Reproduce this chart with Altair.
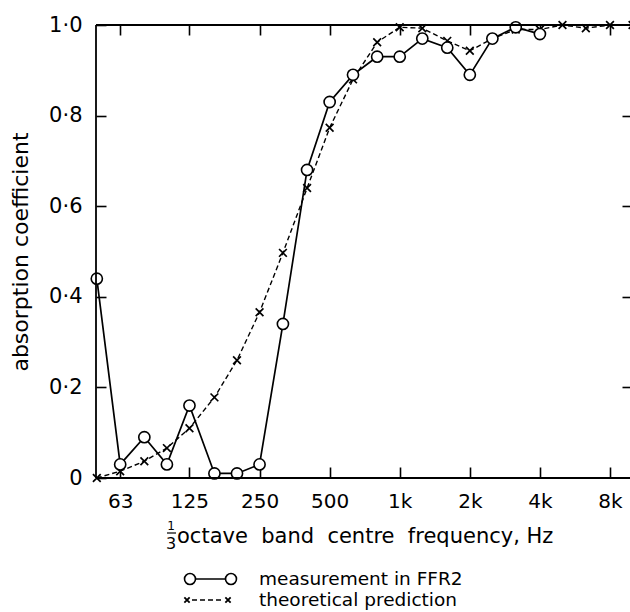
import altair as alt
import pandas as pd

# 1/3-octave band centre frequencies (Hz) and absorption coefficients
meas_freq = [50, 63, 80, 100, 125, 160, 200, 250, 315, 400, 500, 630, 800,
             1000, 1250, 1600, 2000, 2500, 3150, 4000]
meas_alpha = [0.44, 0.03, 0.09, 0.03, 0.16, 0.01, 0.01, 0.03, 0.34, 0.68,
              0.83, 0.89, 0.93, 0.93, 0.97, 0.95, 0.89, 0.97, 0.995, 0.98]

theo_freq = [50, 63, 80, 100, 125, 160, 200, 250, 315, 400, 500, 630, 800,
             1000, 1250, 1600, 2000, 2500, 3150, 4000, 5000, 6300, 8000, 10000]
theo_alpha = [0.0, 0.015, 0.037, 0.066, 0.11, 0.178, 0.26, 0.366, 0.497, 0.64,
              0.773, 0.88, 0.962, 0.995, 0.993, 0.965, 0.943, 0.97, 0.99, 0.99,
              1.0, 0.993, 1.0, 1.0]

x_ticks = [63, 125, 250, 500, 1000, 2000, 4000, 8000]
y_ticks = [0, 0.2, 0.4, 0.6, 0.8, 1.0]
y_inner_ticks = [0.2, 0.4, 0.6, 0.8]

legend_labels = ["measurement in FFR2", "theoretical prediction"]
x_title = "octave\u00a0 band\u00a0 centre\u00a0 frequency, Hz"
y_title = "absorption coefficient"

FONT = "DejaVu Sans"
W, H = 534, 453
X_PATH = "M-1,-1L1,1M-1,1L1,-1"

meas = pd.DataFrame({"f": meas_freq, "a": meas_alpha})
theo = pd.DataFrame({"f": theo_freq, "a": theo_alpha})

xscale = alt.Scale(type="log", domain=[49.6, 9750], nice=False)
yscale = alt.Scale(domain=[0, 1], nice=False, zero=False)

x_label_expr = "datum.value >= 1000 ? (datum.value / 1000) + 'k' : datum.value + ''"
y_label_expr = "datum.value == 0 ? '0' : replace(format(datum.value, '.1f'), '.', '·')"

bottom_axis = alt.Axis(orient="bottom", values=x_ticks, labelExpr=x_label_expr,
                       offset=-11, tickSize=11, tickWidth=1.6, tickColor="black",
                       domain=False, grid=False, labelFont=FONT, labelFontSize=20,
                       labelColor="black", labelPadding=13, labelFlush=False,
                       labelOverlap=False, title=None)
left_axis = alt.Axis(orient="left", values=y_ticks, labelExpr=y_label_expr,
                     offset=-10, tickSize=10, tickWidth=1.6, tickColor="black",
                     domain=False, grid=False, labelFont=FONT, labelFontSize=21,
                     labelColor="black", labelPadding=14, labelFlush=False,
                     labelOverlap=False, title=y_title, titleFont=FONT,
                     titleFontSize=22, titleFontWeight="normal", titleColor="black",
                     titlePadding=16)
top_axis = alt.Axis(orient="top", values=x_ticks, offset=-10, tickSize=10,
                    tickWidth=1.6, tickColor="black", domain=False, grid=False,
                    labels=False, title=None)
right_axis = alt.Axis(orient="right", values=y_inner_ticks, offset=-8, tickSize=8,
                      tickWidth=1.6, tickColor="black", domain=False, grid=False,
                      labels=False, title=None)

theo_line = alt.Chart(theo).mark_line(color="black", strokeWidth=1.4,
                                      strokeDash=[5, 3]).encode(
    x=alt.X("f:Q", scale=xscale, axis=bottom_axis),
    y=alt.Y("a:Q", scale=yscale, axis=left_axis),
)
theo_pts = alt.Chart(theo).mark_point(shape=X_PATH, size=60, filled=False,
                                      stroke="black", strokeWidth=1.7,
                                      opacity=1).encode(
    x=alt.X("f:Q", scale=xscale, axis=top_axis),
    y=alt.Y("a:Q", scale=yscale, axis=right_axis),
)
meas_line = alt.Chart(meas).mark_line(color="black", strokeWidth=1.7).encode(
    x=alt.X("f:Q", scale=xscale, axis=None),
    y=alt.Y("a:Q", scale=yscale, axis=None),
)
meas_pts = alt.Chart(meas).mark_point(shape="circle", size=125, filled=True,
                                      fill="white", stroke="black", strokeWidth=1.6,
                                      opacity=1, fillOpacity=1).encode(
    x=alt.X("f:Q", scale=xscale, axis=None),
    y=alt.Y("a:Q", scale=yscale, axis=None),
)

base = alt.Chart(pd.DataFrame({"k": [0]}))
frame_top = base.mark_rule(color="black", strokeWidth=1.8).encode(
    x=alt.value(0), x2=alt.value(W), y=alt.value(0))
frame_bottom = base.mark_rule(color="black", strokeWidth=1.8).encode(
    x=alt.value(0), x2=alt.value(W), y=alt.value(H))
frame_left = base.mark_rule(color="black", strokeWidth=1.8).encode(
    x=alt.value(0), y=alt.value(0), y2=alt.value(H))

# x-axis title with a stacked 1/3 fraction
title_txt = base.mark_text(align="left", baseline="middle", font=FONT,
                           fontSize=21, color="black").encode(
    x=alt.value(81), y=alt.value(512), text=alt.value(x_title))
frac_num = base.mark_text(align="center", baseline="middle", font=FONT,
                          fontSize=12, color="black").encode(
    x=alt.value(75), y=alt.value(501), text=alt.value("1"))
frac_bar = base.mark_rule(color="black", strokeWidth=1.2).encode(
    x=alt.value(71), x2=alt.value(80), y=alt.value(508))
frac_den = base.mark_text(align="center", baseline="middle", font=FONT,
                          fontSize=16, color="black").encode(
    x=alt.value(75), y=alt.value(519), text=alt.value("3"))

# legend
leg_y1, leg_y2 = 554, 575
leg_line1 = base.mark_rule(color="black", strokeWidth=1.7).encode(
    x=alt.value(94), x2=alt.value(135), y=alt.value(leg_y1))
leg_c1 = base.mark_point(shape="circle", size=120, filled=True, fill="white",
                         stroke="black", strokeWidth=1.6, opacity=1).encode(
    x=alt.value(94), y=alt.value(leg_y1))
leg_c2 = base.mark_point(shape="circle", size=120, filled=True, fill="white",
                         stroke="black", strokeWidth=1.6, opacity=1).encode(
    x=alt.value(135), y=alt.value(leg_y1))
leg_t1 = base.mark_text(align="left", baseline="middle", font=FONT, fontSize=18.5,
                        color="black").encode(
    x=alt.value(163), y=alt.value(leg_y1), text=alt.value(legend_labels[0]))
leg_line2 = base.mark_rule(color="black", strokeWidth=1.5, strokeDash=[5, 3]).encode(
    x=alt.value(96), x2=alt.value(128), y=alt.value(leg_y2))
leg_x1 = base.mark_point(shape=X_PATH, size=28, filled=False, stroke="black",
                         strokeWidth=1.8, opacity=1).encode(
    x=alt.value(91), y=alt.value(leg_y2))
leg_x2 = base.mark_point(shape=X_PATH, size=28, filled=False, stroke="black",
                         strokeWidth=1.8, opacity=1).encode(
    x=alt.value(132), y=alt.value(leg_y2))
leg_t2 = base.mark_text(align="left", baseline="middle", font=FONT, fontSize=18.5,
                        color="black").encode(
    x=alt.value(163), y=alt.value(leg_y2), text=alt.value(legend_labels[1]))

chart = alt.layer(
    theo_line, theo_pts, meas_line, meas_pts,
    frame_top, frame_bottom, frame_left,
    title_txt, frac_num, frac_bar, frac_den,
    leg_line1, leg_c1, leg_c2, leg_t1, leg_line2, leg_x1, leg_x2, leg_t2,
).resolve_axis(x="independent", y="independent").properties(
    width=W, height=H,
    autosize=alt.AutoSizeParams(type="none"),
    padding={"left": 96, "top": 25, "right": 0, "bottom": 134},
    background="white",
).configure_view(stroke=None)

chart.save("out.html", embed_options={"renderer": "svg", "actions": False})
